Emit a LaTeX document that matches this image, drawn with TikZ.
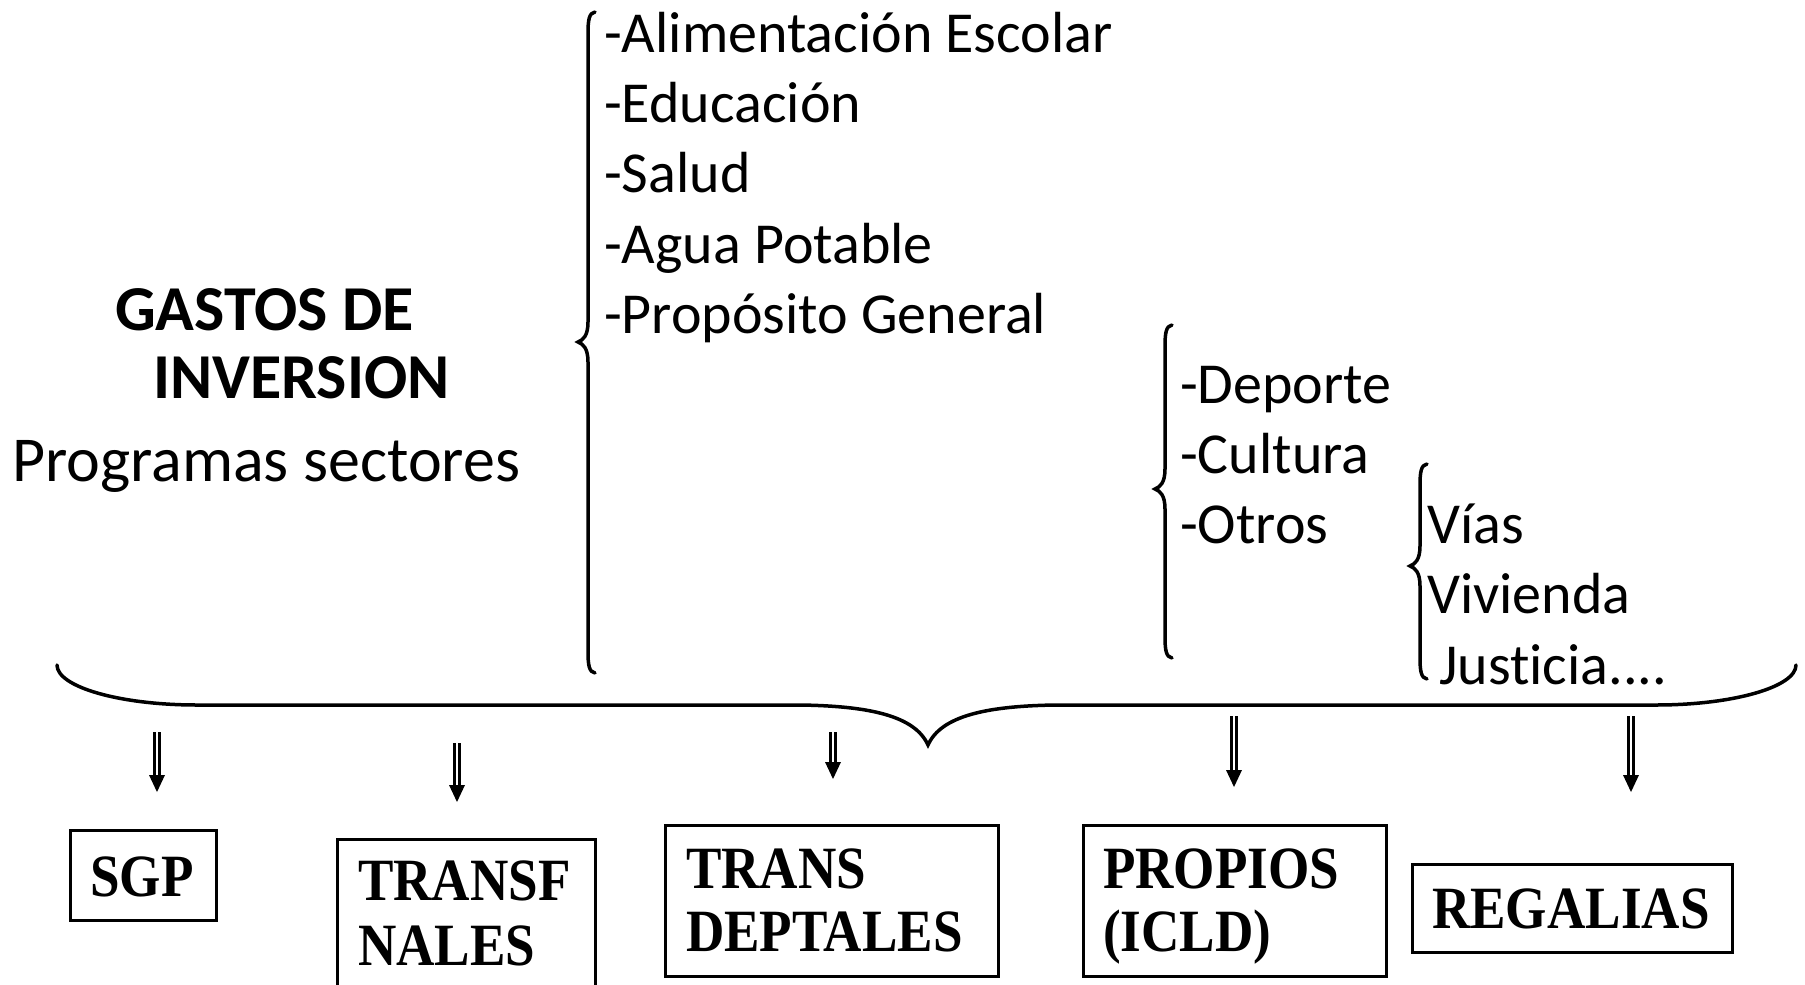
\documentclass[tikz,border=0pt]{standalone}
\usepackage{fontspec}
\setmainfont[Ligatures=NoCommon]{Carlito}
\newfontfamily\tnr[FakeStretch=0.885]{Liberation Serif}
\newcommand\mybrace[4]{%
  \draw[br] (#1+7,#2) .. controls (#1+1,#2+1) and (#1,#2+8) .. (#1,#2+22)
    -- (#1,#3-20) .. controls (#1,#3-6) and (#1-5,#3-2) .. (#1-10,#3)
    .. controls (#1-5,#3+2) and (#1,#3+6) .. (#1,#3+20)
    -- (#1,#4-22) .. controls (#1,#4-8) and (#1+1,#4-1) .. (#1+7,#4);}
\newcommand\myarrow[4]{%
  \coordinate (#1s) at (#2,#3);
  \coordinate (#1e) at (#2,#4);
  \draw[shaft] (#1s) -- ([yshift=15pt]#1e);
  \fill ([xshift=-8pt,yshift=17pt]#1e) -- (#1e) -- ([xshift=8pt,yshift=17pt]#1e) -- cycle;}
\begin{document}
\begin{tikzpicture}[x=1pt,y=-1pt,
  txt/.style={inner sep=0pt, anchor=base west, font=\fontsize{58}{70}\selectfont},
  big/.style={inner sep=0pt, anchor=base west, font=\fontsize{64}{70}\selectfont},
  ttl/.style={inner sep=0pt, anchor=base west, font=\fontsize{64}{70}\selectfont\bfseries},
  boxtxt/.style={inner sep=0pt, anchor=base west, font=\tnr\bfseries\fontsize{60}{64}\selectfont},
  boxr/.style={draw, line width=2.5pt, inner sep=0pt, anchor=north west},
  br/.style={line width=3.5pt, line cap=round},
  shaft/.style={double, double distance=2.7pt, line width=2.7pt},
]
\useasboundingbox (0,0) rectangle (1805,985);
\clip (0,0) rectangle (1805,985);
\fill[white] (0,0) rectangle (1805,985);

% title
\node[ttl] (t1) at (115,330) {GASTOS DE};
\node[ttl] (t2) at (153,398) {INVERSION};
\node[big] (t3) at (12,481) {Programas sectores};

% first list
\mybrace{588}{12}{342}{673}
\node[txt] (l1) at (604,52) {-Alimentación Escolar};
\node[txt] (l2) at (604,122) {-Educación};
\node[txt] (l3) at (604,192) {-Salud};
\node[txt] (l4) at (604,263) {-Agua Potable};
\node[txt] (l5) at (604,333) {-Propósito General};

% second list
\mybrace{1165}{325}{489}{658}
\node[txt] (m1) at (1180,403) {-Deporte};
\node[txt] (m2) at (1180,473) {-Cultura};
\node[txt] (m3) at (1180,543) {-Otros};

% third list
\mybrace{1420}{464}{566}{679}
\node[txt] (n1) at (1427,543) {Vías};
\node[txt] (n2) at (1427,613) {Vivienda};
\node[txt] (n3) at (1439,684) {Justicia....};

% big horizontal brace
\draw[br] (57,665) .. controls (57,687) and (120,705) .. (197,705)
  -- (800,705) .. controls (870,706) and (915,716) .. (928,745)
  .. controls (941,716) and (986,706) .. (1056,705)
  -- (1656,705) .. controls (1733,705) and (1796,687) .. (1796,665);

% arrows
\myarrow{a1}{157}{732}{792}
\myarrow{a2}{457}{743}{802}
\myarrow{a3}{833}{732}{779}
\myarrow{a4}{1234}{716}{787}
\myarrow{a5}{1631}{716}{792}

% boxes
\node[boxr, minimum width=146pt, minimum height=90pt] (sgp) at (69,829) {};
\node[boxtxt] (sgpt) at (90,896) {SGP};
\node[boxr, minimum width=258pt, minimum height=180pt] (tn) at (336,838) {};
\node[boxtxt] (tnt1) at (358,900) {TRANSF};
\node[boxtxt] (tnt2) at (358,965) {NALES};
\node[boxr, minimum width=333pt, minimum height=151pt] (td) at (664,824) {};
\node[boxtxt] (tdt1) at (686,888) {TRANS};
\node[boxtxt] (tdt2) at (686,951) {DEPTALES};
\node[boxr, minimum width=303pt, minimum height=151pt] (pr) at (1082,824) {};
\node[boxtxt] (prt1) at (1103,888) {PROPIOS};
\node[boxtxt] (prt2) at (1103,951) {(ICLD)};
\node[boxr, minimum width=320pt, minimum height=88pt] (rg) at (1411,863) {};
\node[boxtxt] (rgt) at (1432,928) {REGALIAS};
\end{tikzpicture}
\end{document}
